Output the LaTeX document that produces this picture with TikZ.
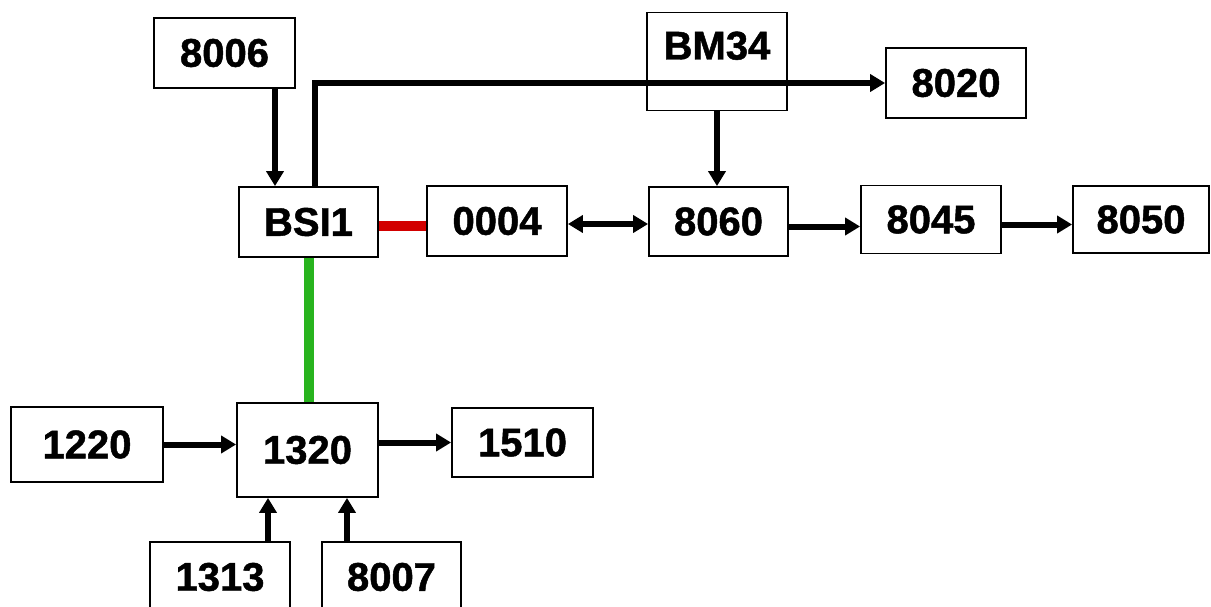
\documentclass[tikz,border=0pt]{standalone}
\usepackage{fontspec}
\setmainfont{Liberation Sans}[FakeBold=1.2]
\usetikzlibrary{arrows.meta,calc}
\definecolor{linkred}{RGB}{210,0,0}
\definecolor{linkgreen}{RGB}{40,180,30}
\begin{document}
\begin{tikzpicture}[x=1pt,y=-1pt,
  box/.style={draw=black,line width=1.8pt,inner sep=0pt,fill=white,
    font=\fontsize{40}{42}\selectfont\bfseries},
  tip/.tip={Triangle[length=15pt,width=17pt]},
  arr/.style={line width=6pt,-tip},
  darr/.style={line width=6pt,tip-tip},
  redlink/.style={line width=10pt,draw=linkred},
  greenlink/.style={line width=10pt,draw=linkgreen}]
\useasboundingbox (0,0) rectangle (1211,607);
\clip (0,0) rectangle (1211,607);
% nodes
\node[box,minimum width=141pt,minimum height=70pt] (n8006) at (224.5,53) {8006};
\node[box,minimum width=139pt,minimum height=70pt] (bsi) at (308.5,222) {BSI1};
\node[box,minimum width=140pt,minimum height=70pt] (n0004) at (497,221) {0004};
\node[box,minimum width=140pt,text height=28pt,text depth=32pt,inner ysep=19pt] (bm) at (717,61.5) {BM34};
\node[box,minimum width=140pt,minimum height=70pt] (n8020) at (956,83) {8020};
\node[box,minimum width=139pt,minimum height=69pt] (n8060) at (718.5,221.5) {8060};
\node[box,minimum width=140pt,minimum height=68pt] (n8045) at (931,219.5) {8045};
\node[box,minimum width=136pt,minimum height=67pt] (n8050) at (1141,219.5) {8050};
\node[box,minimum width=152pt,minimum height=75pt] (n1220) at (87,444.5) {1220};
\node[box,minimum width=141pt,minimum height=94pt] (n1320) at (307.5,450) {1320};
\node[box,minimum width=141pt,minimum height=69pt] (n1510) at (522.5,442.5) {1510};
\node[box,minimum width=140pt,minimum height=70pt] (n1313) at (220,577) {1313};
\node[box,minimum width=139pt,minimum height=70pt] (n8007) at (391.5,577) {8007};
% connectors
\draw[arr] ([xshift=50.5pt]n8006.south) -- ([xshift=50.5pt]n8006.south |- bsi.north);
\draw[arr] ([xshift=6.5pt]bsi.north) |- (n8020.west);
\draw[redlink] ([yshift=-4pt]bsi.east) -- ([yshift=-4pt]bsi.east -| n0004.west);
\draw[greenlink] (bsi.south) -- (bsi.south |- n1320.north);
\draw[darr] ([yshift=-3pt]n0004.east) -- ([yshift=-3pt]n0004.east -| n8060.west);
\draw[arr] (bm.south) -- (bm.south |- n8060.north);
\draw[arr] ([yshift=-5pt]n8060.east) -- ([yshift=-5pt]n8060.east -| n8045.west);
\draw[arr] ([yshift=-5pt]n8045.east) -- ([yshift=-5pt]n8045.east -| n8050.west);
\draw[arr] (n1220.east) -- (n1220.east -| n1320.west);
\draw[arr] (n1510.west -| n1320.east) -- (n1510.west);
\draw[arr] ([xshift=48pt]n1313.north) -- ([xshift=48pt]n1313.north |- n1320.south);
\draw[arr] ([xshift=-44.5pt]n8007.north) -- ([xshift=-44.5pt]n8007.north |- n1320.south);
\end{tikzpicture}
\end{document}
